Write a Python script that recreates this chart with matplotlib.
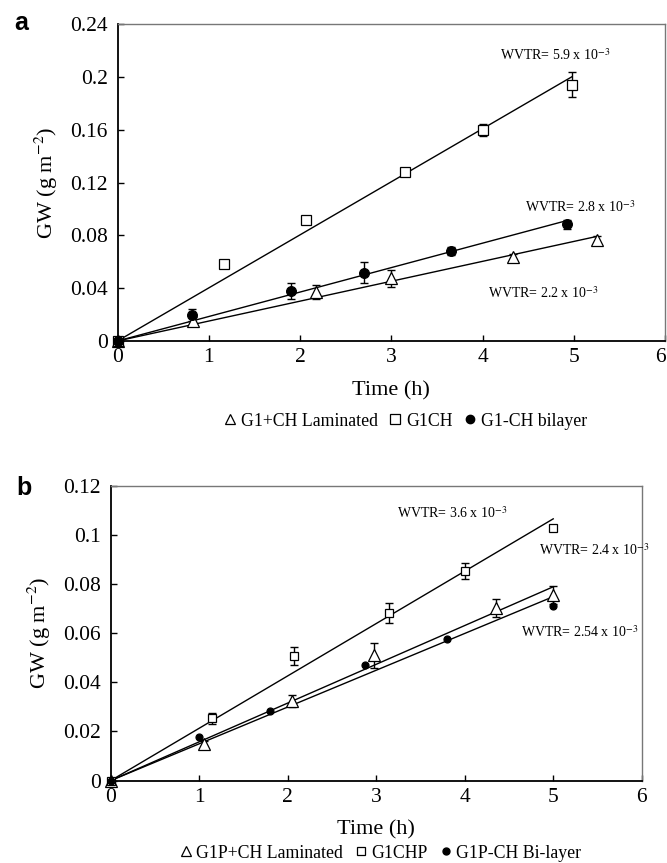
import numpy as np
import matplotlib
matplotlib.use("Agg")
import matplotlib.pyplot as plt
import matplotlib.transforms as mtransforms
from matplotlib.lines import Line2D

plt.rcParams["font.family"] = ["Liberation Serif", "DejaVu Serif"]
plt.rcParams["mathtext.fontset"] = "stix"

# ---- Panel a: G1 films ----
t_lam_a = [0, 0.83, 2.17, 3.00, 4.33, 5.25]
gw_lam_a = [0, 0.0152, 0.0373, 0.0475, 0.0640, 0.0767]
err_lam_a = [0, 0.0030, 0.0055, 0.0065, 0.0020, 0.0030]

t_ch_a = [0, 1.17, 2.07, 3.15, 4.00, 4.98]
gw_ch_a = [0, 0.0584, 0.0919, 0.1277, 0.1597, 0.1943]
err_ch_a = [0, 0.0015, 0.0015, 0.0010, 0.0045, 0.0094]

t_bi_a = [0, 0.82, 1.90, 2.70, 3.65, 4.93]
gw_bi_a = [0, 0.0198, 0.0380, 0.0516, 0.0680, 0.0884]
err_bi_a = [0, 0.0048, 0.0060, 0.0080, 0.0030, 0.0035]

labels_a = ["G1+CH Laminated", "G1CH", "G1-CH bilayer"]
wvtr_a = ["5.9", "2.8", "2.2"]

# ---- Panel b: G1P films ----
t_lam_b = [0, 1.05, 2.05, 2.98, 4.35, 5.00]
gw_lam_b = [0, 0.0150, 0.0324, 0.0510, 0.0701, 0.0755]
err_lam_b = [0, 0.0010, 0.0026, 0.0050, 0.0037, 0.0038]

t_ch_b = [0, 1.15, 2.07, 3.15, 4.00, 5.00]
gw_ch_b = [0, 0.0254, 0.0506, 0.0683, 0.0854, 0.1027]
err_ch_b = [0, 0.0022, 0.0037, 0.0040, 0.0033, 0.0008]

t_bi_b = [0, 1.00, 1.80, 2.87, 3.80, 5.00]
gw_bi_b = [0, 0.0177, 0.0283, 0.0469, 0.0576, 0.0710]

labels_b = ["G1P+CH Laminated", "G1CHP", "G1P-CH Bi-layer"]
wvtr_b = ["3.6", "2.4", "2.54"]

x_ticks = [0, 1, 2, 3, 4, 5, 6]
y_ticks_a = [0, 0.04, 0.08, 0.12, 0.16, 0.2, 0.24]
y_ticks_b = [0, 0.02, 0.04, 0.06, 0.08, 0.1, 0.12]


def fmt(v):
    return "0" if v == 0 else ("%g" % v)


def origin_fit(t, y):
    t = np.asarray(t, float)
    y = np.asarray(y, float)
    k = np.sum(t * y) / np.sum(t * t)
    xs = np.array([0.0, t.max()])
    return xs, k * xs


def series(ax, t, y, err, marker, ms, filled):
    fc = "black" if filled else "white"
    if err is not None:
        ax.errorbar(t, y, yerr=err, fmt="none", ecolor="black",
                    elinewidth=1.0, capsize=3, capthick=1.0, zorder=3)
    ax.plot(t, y, linestyle="none", marker=marker, ms=ms, mfc=fc,
            mec="black", mew=0.9, zorder=4, clip_on=False)
    xs, ys = origin_fit(t, y)
    ax.plot(xs, ys, color="black", lw=1.0, zorder=2)


def style_axes(ax, yticks, shift_last):
    ax.set_xlim(0, 6)
    ax.set_ylim(yticks[0], yticks[-1])
    ax.set_xticks(x_ticks)
    ax.set_xticklabels([str(v) for v in x_ticks])
    ax.set_yticks(yticks)
    ax.set_yticklabels([fmt(v) for v in yticks])
    ax.tick_params(direction="in", length=4, width=1.0, labelsize=15.5)
    ax.tick_params(axis="x", pad=5)
    ax.tick_params(axis="y", pad=7)
    if shift_last:
        lab = ax.get_xticklabels()[-1]
        lab.set_transform(lab.get_transform() +
                          mtransforms.ScaledTranslation(-5 / 100, 0, ax.figure.dpi_scale_trans))
    for s in ["left", "bottom"]:
        ax.spines[s].set_linewidth(1.3)
        ax.spines[s].set_color("black")
    for s in ["top", "right"]:
        ax.spines[s].set_linewidth(1.0)
        ax.spines[s].set_color("#777777")
    ax.set_xlabel("Time (h)", fontsize=16, labelpad=10)
    ax.set_ylabel(r"GW (g m$^{-2}$)", fontsize=16, labelpad=7)


fig = plt.figure(figsize=(6.67, 8.63), dpi=100)

# Panel a
ax_a = fig.add_axes([0.1762, 0.6049, 0.8208, 0.3669])
series(ax_a, t_lam_a, gw_lam_a, err_lam_a, "^", 8, False)
series(ax_a, t_ch_a, gw_ch_a, err_ch_a, "s", 7.5, False)
series(ax_a, t_bi_a, gw_bi_a, err_bi_a, "o", 7, True)
style_axes(ax_a, y_ticks_a, True)
for txt, (x, y) in zip(wvtr_a, [(4.19, 0.2167), (4.47, 0.1018), (4.06, 0.0361)]):
    ax_a.text(x, y, "WVTR= %s x 10$^{-3}$" % txt, fontsize=10,
              ha="left", va="center")

# Panel b
ax_b = fig.add_axes([0.1660, 0.0955, 0.7961, 0.3417])
series(ax_b, t_lam_b, gw_lam_b, err_lam_b, "^", 8, False)
series(ax_b, t_ch_b, gw_ch_b, err_ch_b, "s", 5.5, False)
series(ax_b, t_bi_b, gw_bi_b, None, "o", 5, True)
style_axes(ax_b, y_ticks_b, False)
for txt, (x, y) in zip(wvtr_b, [(3.23, 0.1087), (4.84, 0.0938), (4.64, 0.0606)]):
    ax_b.text(x, y, "WVTR= %s x 10$^{-3}$" % txt, fontsize=10,
              ha="left", va="center")


def legend_handles(sizes):
    h = [
        Line2D([], [], ls="none", marker="^", ms=sizes[0], mfc="white", mec="black", mew=0.9),
        Line2D([], [], ls="none", marker="s", ms=sizes[1], mfc="white", mec="black", mew=0.9),
        Line2D([], [], ls="none", marker="o", ms=sizes[2], mfc="black", mec="black"),
    ]
    return h


fig.legend(legend_handles([7, 6.5, 6]), labels_a, loc="center",
           bbox_to_anchor=(405 / 667, 1 - 421 / 863), ncol=3, frameon=False,
           fontsize=12.8, handlelength=0.8, handletextpad=0.2, columnspacing=0.6)
fig.legend(legend_handles([7, 5.5, 5]), labels_b, loc="center",
           bbox_to_anchor=(380 / 667, 1 - 853 / 863), ncol=3, frameon=False,
           fontsize=12.8, handlelength=0.8, handletextpad=0.2, columnspacing=0.6)

fig.text(21 / 667, 1 - 23 / 863, "a", fontsize=18, fontweight="bold",
         family=["Liberation Sans", "DejaVu Sans"], ha="center", va="center")
fig.text(24 / 667, 1 - 488 / 863, "b", fontsize=18, fontweight="bold",
         family=["Liberation Sans", "DejaVu Sans"], ha="center", va="center")

fig.savefig("out.png", dpi=100)
